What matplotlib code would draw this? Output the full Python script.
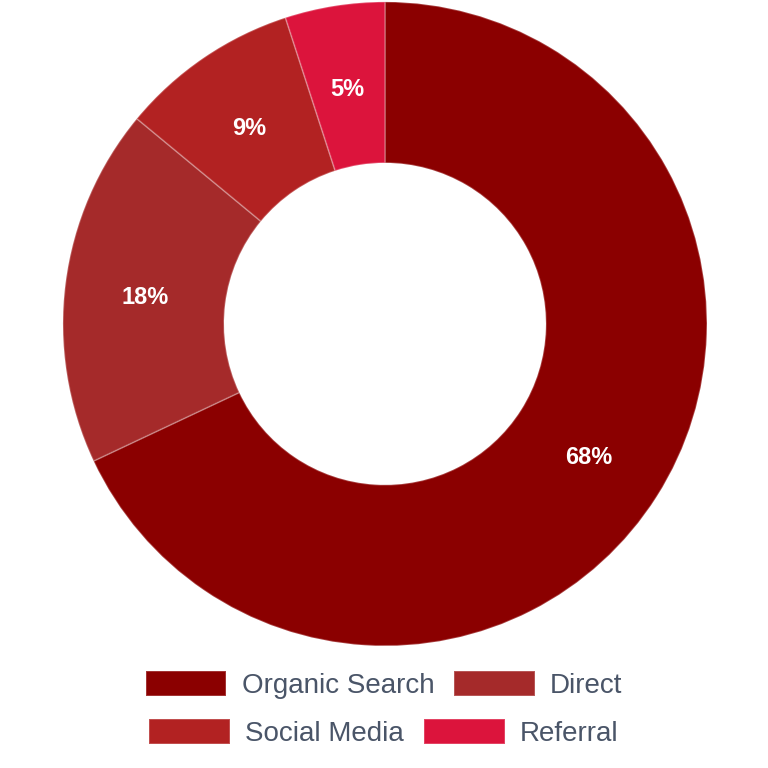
import matplotlib.pyplot as plt
from matplotlib.patches import Patch

# traffic source share (%)
sources = ["Organic Search", "Direct", "Social Media", "Referral"]
shares = [68, 18, 9, 5]
colors = ["#8B0000", "#A52A2A", "#B22222", "#DC143C"]

plt.rcParams["font.family"] = ["Liberation Sans", "DejaVu Sans"]

fig = plt.figure(figsize=(7.68, 7.68), dpi=100)
ax = fig.add_axes([0.082, 0.159, 0.8385, 0.8385])

wedges, texts, autotexts = ax.pie(
    shares, colors=colors, startangle=90, counterclock=False,
    radius=1.0, autopct="%d%%", pctdistance=0.75,
    wedgeprops=dict(width=0.5, edgecolor=(1, 1, 1, 0.25), linewidth=1.2),
    textprops=dict(color="white", fontsize=17, fontweight="bold"),
)
# nudge labels a touch lower, as in the reference
for t in autotexts:
    x, y = t.get_position()
    t.set_position((x, y - 0.012))

ax.set_xlim(-1, 1)
ax.set_ylim(-1, 1)
ax.set_aspect("equal")
ax.axis("off")

# legend: two rows, each centred on its own (like the reference)
handles = [Patch(facecolor=c, edgecolor=(1, 1, 1, 0.25), linewidth=1.2)
           for c in colors]
legend_kw = dict(ncol=2, frameon=False, fontsize=20, labelcolor="#4a5568",
                 handlelength=2.9, handleheight=1.0, handletextpad=0.55,
                 columnspacing=0.72, borderpad=0, borderaxespad=0)
fig.legend(handles[:2], sources[:2], loc="center",
           bbox_to_anchor=(0.5, 0.108), **legend_kw)
fig.legend(handles[2:], sources[2:], loc="center",
           bbox_to_anchor=(0.5, 0.0456), **legend_kw)

fig.savefig("out.png", dpi=100)
